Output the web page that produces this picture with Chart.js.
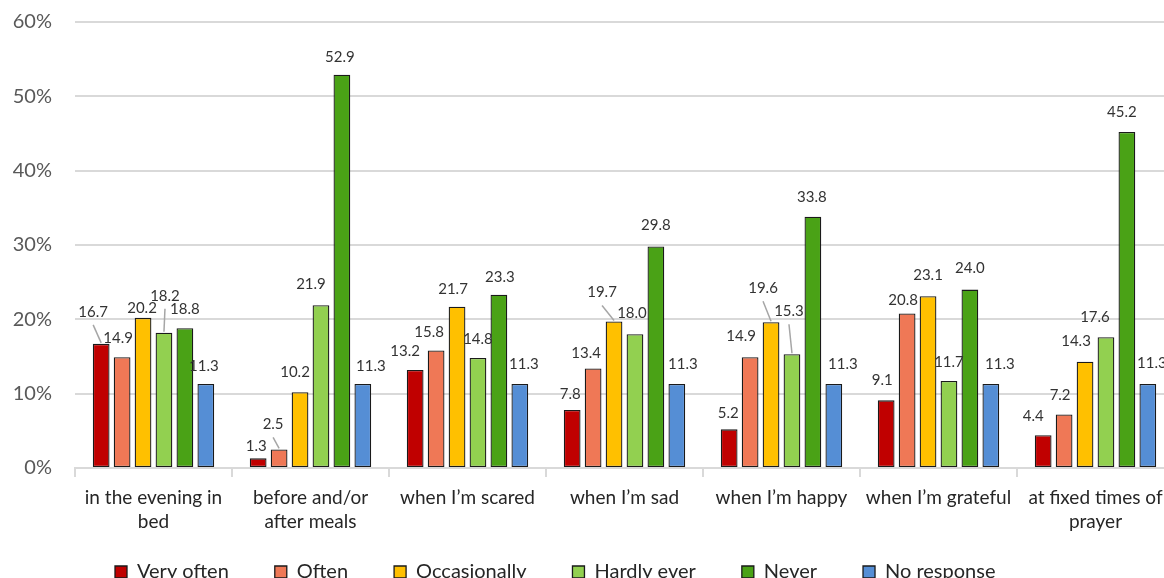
<!DOCTYPE html>
<html>
<head>
<meta charset="utf-8">
<script src="https://cdn.jsdelivr.net/npm/chart.js@4.4.1/dist/chart.umd.min.js"></script>
<style>
html,body{margin:0;padding:0;overflow:hidden;background:#fff;width:1164px;height:578px}
#wrap{position:absolute;left:0;top:0;width:1184px;height:700px}
</style>
</head>
<body>
<div id="wrap"><canvas id="c" width="1184" height="700"></canvas></div>
<script>
// ---- data ----
const categories = [["in the evening in", "bed"], ["before and/or", "after meals"], "when I’m scared", "when I’m sad", "when I’m happy", "when I’m grateful", ["at fixed times of", "prayer"]];
const seriesNames = ["Very often", "Often", "Occasionally", "Hardly ever", "Never", "No response"];
const veryOften    = [16.7, 1.3, 13.2, 7.8, 5.2, 9.1, 4.4];
const often        = [14.9, 2.5, 15.8, 13.4, 14.9, 20.8, 7.2];
const occasionally = [20.2, 10.2, 21.7, 19.7, 19.6, 23.1, 14.3];
const hardlyEver   = [18.2, 21.9, 14.8, 18.0, 15.3, 11.7, 17.6];
const never        = [18.8, 52.9, 23.3, 29.8, 33.8, 24.0, 45.2];
const noResponse   = [11.3, 11.3, 11.3, 11.3, 11.3, 11.3, 11.3];
const yTickValues  = [0, 10, 20, 30, 40, 50, 60];
const yTickLabels  = ["0%", "10%", "20%", "30%", "40%", "50%", "60%"];

// ---- styling ----
const seriesColors = ["#C00000", "#EF7856", "#FFC000", "#92D050", "#4AA216", "#558ED5"];
// label nudges [dx, dy] per category, per series (pixels, relative to default above-bar spot)
const labelNudges = [
  [[-8,-14],[-4,-1],[-1,8],[1,-19],[0,-1],[-2,0]],
  [[-2,6],[-6,-7],[-5,-2],[-10,-3],[-2,0],[8,0]],
  [[-10,-1],[-7,0],[-4,0],[0,-1],[1,0],[4,-2]],
  [[-2,2],[-7,3],[-12,-11],[-3,-3],[0,-3],[6,-2]],
  [[-1,2],[-9,-3],[-8,-16],[-3,-25],[-1,-2],[9,-2]],
  [[-4,-2],[-4,5],[0,-3],[0,-1],[0,-3],[9,-2]],
  [[-10,-1],[-4,-1],[-9,-3],[-11,-2],[-5,-2],[4,-3]]
];
const leaderLines = ["0-0", "0-3", "1-1", "3-2", "4-2", "4-3"];

const seriesValues = [veryOften, often, occasionally, hardlyEver, never, noResponse];
const CANVAS_H = 700, PLOT_BOTTOM = 468, LEGEND_MID = 572, LEGEND_X = 115;

Chart.defaults.font.family = "Lato, 'Open Sans', sans-serif";

const barLabels = {
  id: 'barLabels',
  afterDatasetsDraw(chart) {
    const ctx = chart.ctx;
    ctx.save();
    ctx.font = "15px Lato";
    ctx.textAlign = "center";
    ctx.textBaseline = "middle";
    chart.data.datasets.forEach((ds, si) => {
      const meta = chart.getDatasetMeta(si);
      meta.data.forEach((bar, ci) => {
        const nudge = labelNudges[ci][si];
        const lx = bar.x + nudge[0];
        const ly = bar.y - 18 + nudge[1];
        if (leaderLines.includes(ci + "-" + si)) {
          ctx.strokeStyle = "#A6A6A6";
          ctx.lineWidth = 1.5;
          ctx.beginPath();
          ctx.moveTo(lx, ly + 13);
          ctx.lineTo(bar.x, bar.y - 1);
          ctx.stroke();
        }
        ctx.fillStyle = "#333333";
        ctx.fillText(Number(ds.data[ci]).toFixed(1), lx, ly);
      });
    });
    ctx.restore();
  }
};

const legendPlace = {
  id: 'legendPlace',
  afterLayout(chart) {
    const lg = chart.legend;
    if (!lg) return;
    const pad = lg.options.labels.padding;
    lg.left = LEGEND_X - pad;
    lg.right = lg.left + 2000;
    lg.top = LEGEND_MID - pad - 10;
    lg.bottom = lg.top + lg.height;
  }
};

new Chart(document.getElementById('c'), {
  type: 'bar',
  data: {
    labels: categories,
    datasets: seriesNames.map((name, i) => ({
      label: name,
      data: seriesValues[i],
      backgroundColor: seriesColors[i],
      borderColor: "#1A1A1A",
      borderWidth: 1.3,
      borderSkipped: false,
      categoryPercentage: 0.8,
      barPercentage: 0.8
    }))
  },
  options: {
    responsive: false,
    animation: false,
    layout: { padding: { top: 22, left: 0, right: 10, bottom: 0 } },
    plugins: {
      tooltip: { enabled: false },
      legend: {
        position: 'bottom',
        align: 'start',
        labels: {
          boxWidth: 12,
          boxHeight: 12,
          padding: 46,
          color: "#262626",
          font: { size: 20, family: "Lato" }
        }
      }
    },
    scales: {
      x: {
        grid: { display: true, drawOnChartArea: false, drawTicks: true, tickLength: 9, color: "#D9D9D9", lineWidth: 2 },
        border: { display: true, color: "#D9D9D9", width: 2 },
        ticks: {
          color: "#262626",
          font: { size: 19, lineHeight: 24 / 19 },
          padding: 9,
          maxRotation: 0,
          minRotation: 0,
          autoSkip: false
        },
        afterFit(s) {
          const lgH = s.chart.legend ? s.chart.legend.height : 0;
          s.height = CANVAS_H - PLOT_BOTTOM - lgH;
          s.paddingLeft = 0;
          s.paddingRight = 0;
        }
      },
      y: {
        min: 0,
        max: 60,
        grid: { color: "#D9D9D9", lineWidth: 2, drawTicks: false },
        border: { display: false },
        afterBuildTicks(s) { s.ticks = yTickValues.map(v => ({ value: v })); },
        ticks: {
          color: "#595959",
          font: { size: 20 },
          padding: 23,
          callback: (v) => yTickLabels[yTickValues.indexOf(v)]
        },
        afterFit(s) {
          s.width = 75;
          s.paddingTop = 0;
          s.paddingBottom = 0;
        }
      }
    }
  },
  plugins: [barLabels, legendPlace]
});
</script>
</body>
</html>
